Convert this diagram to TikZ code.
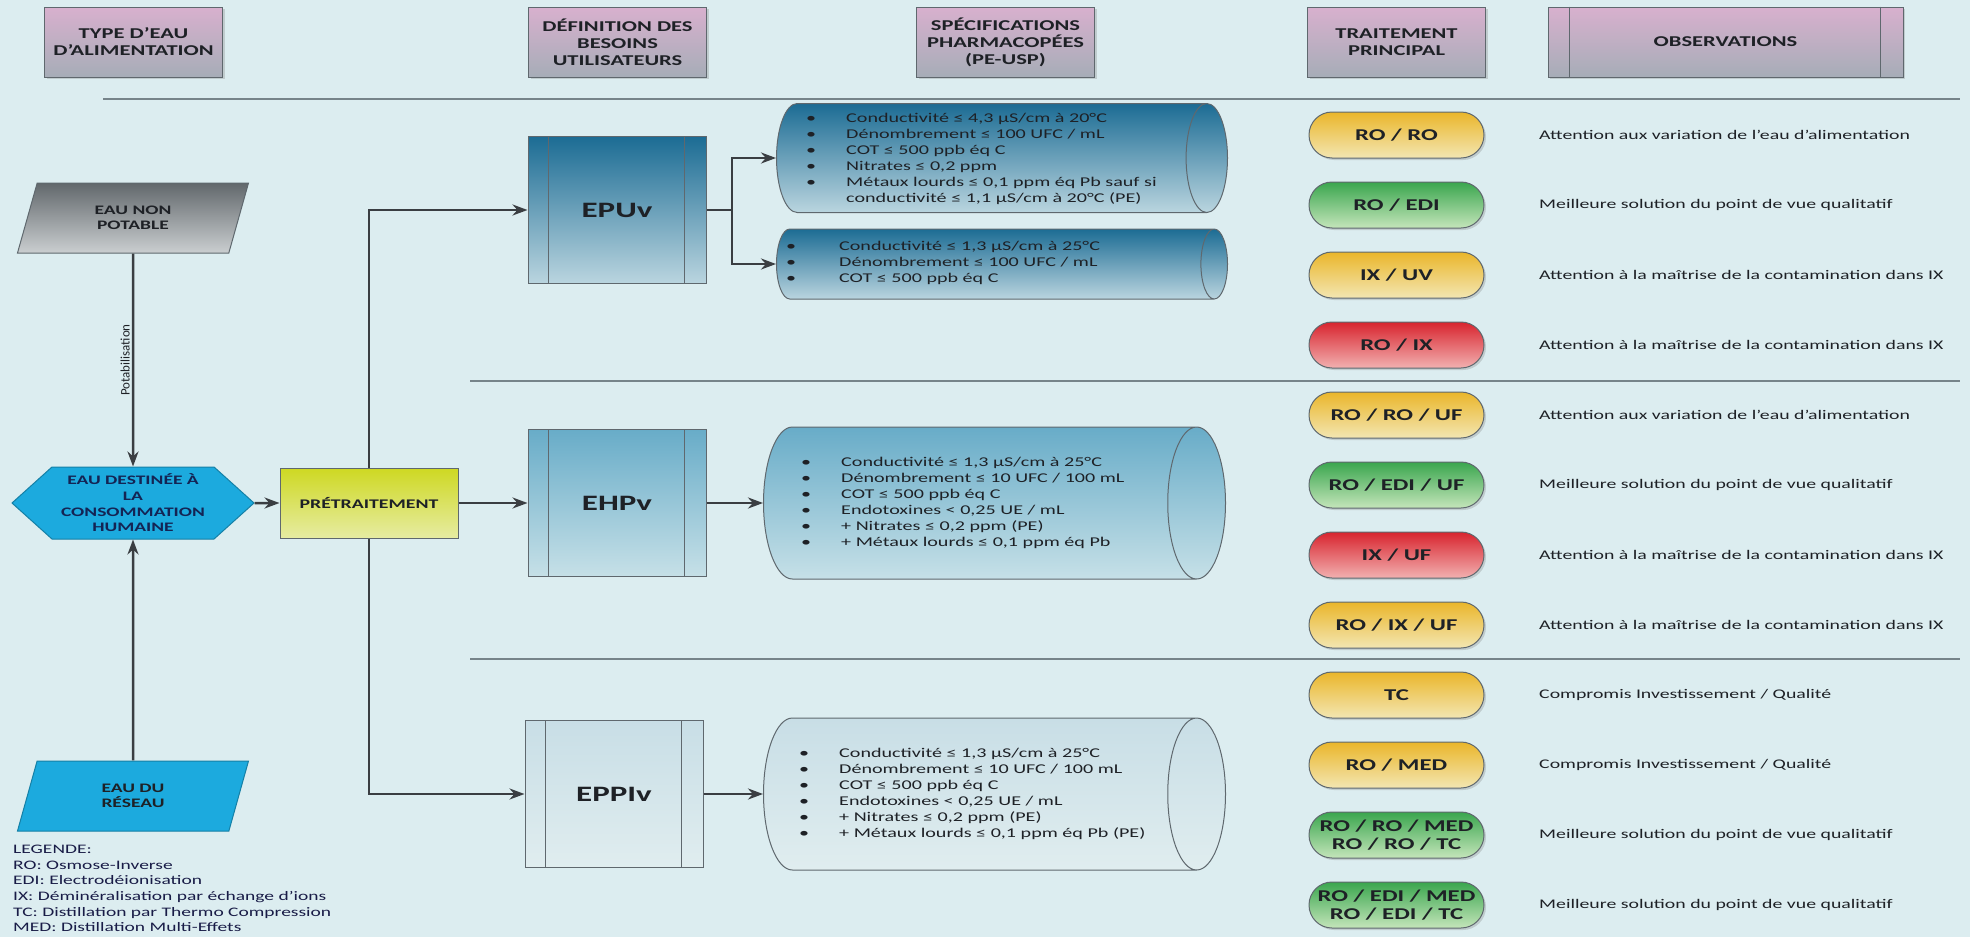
\documentclass[tikz,border=0pt]{standalone}
\usepackage{fontspec}
\setmainfont{Carlito}[FakeStretch=1.5]
\newfontfamily\plainfont{Carlito}
\usetikzlibrary{shapes.geometric,shapes.misc,shapes.symbols,arrows.meta,shadows}

\definecolor{bgcol}{RGB}{220,237,240}
\definecolor{edge}{RGB}{95,104,110}
\definecolor{flowcol}{RGB}{58,62,66}
\definecolor{sepcol}{RGB}{118,132,138}
\definecolor{txt}{RGB}{30,33,38}
\definecolor{headtop}{RGB}{216,176,206}
\definecolor{headbot}{RGB}{166,173,183}
\definecolor{greytop}{RGB}{98,104,108}
\definecolor{greybot}{RGB}{202,206,208}
\definecolor{cyanb}{RGB}{28,170,222}
\definecolor{navy}{RGB}{20,36,84}
\definecolor{prettop}{RGB}{206,216,34}
\definecolor{pretbot}{RGB}{230,236,162}
\definecolor{darktop}{RGB}{28,108,148}
\definecolor{darkbot}{RGB}{186,213,223}
\definecolor{midtop}{RGB}{104,172,200}
\definecolor{midbot}{RGB}{198,224,231}
\definecolor{palebot}{RGB}{224,237,239}
\definecolor{paletop}{RGB}{200,222,230}
\definecolor{yeltop}{RGB}{234,182,42}
\definecolor{yelbot}{RGB}{243,230,178}
\definecolor{grntop}{RGB}{58,166,78}
\definecolor{grnbot}{RGB}{196,229,186}
\definecolor{redtop}{RGB}{216,36,46}
\definecolor{redbot}{RGB}{242,176,176}

\newcommand{\puce}[1][40pt]{\makebox[#1][l]{•}}

\begin{document}
\begin{tikzpicture}[x=1pt, y=-1pt, >={Stealth[length=15pt,width=11pt]},
    every node/.style={text=txt, inner sep=2pt},
    shade/.style={drop shadow={opacity=0.3, shadow xshift=2pt, shadow yshift=-2pt}},
    head/.style={draw=edge, line width=1pt, top color=headtop, bottom color=headbot, minimum width=178pt, minimum height=70pt, align=center, font=\bfseries\fontsize{15}{17}\selectfont, shade},
    source/.style={trapezium, trapezium left angle=54.5, trapezium right angle=125.5, trapezium stretches body, minimum width=231pt, minimum height=70pt, draw=edge, line width=1pt, align=center, font=\bfseries\fontsize{13}{15}\selectfont},
    procbox/.style={draw=edge, line width=1pt, minimum width=178pt, minimum height=147pt, font=\bfseries\fontsize{22}{26}\selectfont},
    tank/.style={cylinder, shape border rotate=0, aspect=0.38, anchor=west, draw=edge, line width=1pt, minimum height=451pt, minimum width=109pt},
    spec/.style={anchor=west, inner sep=0pt, align=left, font=\fontsize{13.4}{16}\selectfont},
    pill/.style={rounded rectangle, draw=edge, line width=1pt, minimum width=179pt, minimum height=46pt, align=center, font=\bfseries\fontsize{16.5}{18}\selectfont, shade},
    jaune/.style={pill, top color=yeltop, bottom color=yelbot},
    vert/.style={pill, top color=grntop, bottom color=grnbot},
    rouge/.style={pill, top color=redtop, bottom color=redbot},
    obs/.style={anchor=west, inner sep=0pt, font=\fontsize{13.2}{16}\selectfont},
    flow/.style={->, draw=flowcol, line width=2.5pt},
    sep/.style={draw=sepcol, line width=1.5pt},
    pota/.style={midway, rotate=90, above, font=\plainfont\fontsize{13}{15}\selectfont}]

    \useasboundingbox (0,0) rectangle (1970,937);
    \fill[bgcol] (0,0) rectangle (1970,937);

    % column titles
    \node[head] (tp) at (133.5,42) {TYPE D’EAU\\D’ALIMENTATION};
    \node[head] (df) at (617.5,42) {DÉFINITION DES\\BESOINS\\UTILISATEURS};
    \node[head] (sp) at (1005.5,42) {SPÉCIFICATIONS\\PHARMACOPÉES\\(PE-USP)};
    \node[head] (tr) at (1396.5,42) {TRAITEMENT\\PRINCIPAL};
    \node[head, minimum width=355pt] (ob) at (1725.5,42) {OBSERVATIONS};
    \draw[edge, line width=1pt] ([xshift=22pt]ob.north west) -- ([xshift=22pt]ob.south west)
        ([xshift=-23pt]ob.north east) -- ([xshift=-23pt]ob.south east);

    \draw[sep] (103,99) -- (1960,99);
    \draw[sep] (470,381) -- (1960,381);
    \draw[sep] (470,659) -- (1960,659);

    % feed water
    \node[source, top color=greytop, bottom color=greybot] (np) at (133,218) {EAU NON\\POTABLE};
    \node[signal, signal to=west and east, signal pointer angle=84, minimum width=242pt, minimum height=72pt, fill=cyanb, draw=cyanb!75!black, line width=1pt, align=center, text=navy, font=\bfseries\fontsize{13}{15.7}\selectfont] (ed) at (133,503) {EAU DESTINÉE À\\LA\\CONSOMMATION\\HUMAINE};
    \node[source, fill=cyanb, draw=cyanb!75!black] (rs) at (133,796) {EAU DU\\RÉSEAU};
    \node[draw=edge, line width=1pt, top color=prettop, bottom color=pretbot, minimum width=178pt, minimum height=70pt, font=\bfseries\fontsize{13.2}{16}\selectfont] (pt) at (369,503) {PRÉTRAITEMENT};

    \node[anchor=north west, inner sep=0pt, align=left, text=txt!85!blue, font=\fontsize{13}{15.6}\selectfont] (lg) at (13,845) {LEGENDE:\\RO: Osmose-Inverse\\EDI: Electrodéionisation\\IX: Déminéralisation par échange d’ions\\TC: Distillation par Thermo Compression\\MED: Distillation Multi-Effets};

    % user needs
    \node[procbox, top color=darktop, bottom color=darkbot] (b1) at (617,210) {EPUv};
    \node[procbox, top color=midtop, bottom color=midbot] (b2) at (617,503) {EHPv};
    \node[procbox, top color=paletop, bottom color=palebot] (b3) at (614,794) {EPPIv};
    \draw[edge, line width=1pt] ([xshift=21pt]b1.north west) -- ([xshift=21pt]b1.south west)
        ([xshift=-22pt]b1.north east) -- ([xshift=-22pt]b1.south east);
    \draw[edge, line width=1pt] ([xshift=21pt]b2.north west) -- ([xshift=21pt]b2.south west)
        ([xshift=-22pt]b2.north east) -- ([xshift=-22pt]b2.south east);
    \draw[edge, line width=1pt] ([xshift=21pt]b3.north west) -- ([xshift=21pt]b3.south west)
        ([xshift=-22pt]b3.north east) -- ([xshift=-22pt]b3.south east);

    % specifications
    \node[tank, top color=darktop, bottom color=darkbot] (c1) at (776,158) {\rule{0pt}{105pt}};
    \node[tank, top color=darktop, bottom color=darkbot, minimum width=70pt] (c2) at (776,264) {\rule{0pt}{66pt}};
    \node[tank, top color=midtop, bottom color=midbot, minimum height=462pt, minimum width=152pt] (c3) at (763,503) {\rule{0pt}{148pt}};
    \node[tank, top color=paletop, bottom color=palebot, minimum height=462pt, minimum width=152pt] (c4) at (763,794) {\rule{0pt}{148pt}};

    \node[spec] (s1) at (806,159) {\puce Conductivité ≤ 4,3 µS/cm à 20°C\\\puce Dénombrement ≤ 100 UFC / mL\\\puce COT ≤ 500 ppb éq C\\\puce Nitrates ≤ 0,2 ppm\\\puce Métaux lourds ≤ 0,1 ppm éq Pb sauf si\\\hspace*{40pt}conductivité ≤ 1,1 µS/cm à 20°C (PE)};
    \node[spec] (s2) at (786,263) {\puce[53pt]Conductivité ≤ 1,3 µS/cm à 25°C\\\puce[53pt]Dénombrement ≤ 100 UFC / mL\\\puce[53pt]COT ≤ 500 ppb éq C};
    \node[spec] (s3) at (801,503) {\puce Conductivité ≤ 1,3 µS/cm à 25°C\\\puce Dénombrement ≤ 10 UFC / 100 mL\\\puce COT ≤ 500 ppb éq C\\\puce Endotoxines < 0,25 UE / mL\\\puce + Nitrates ≤ 0,2 ppm (PE)\\\puce + Métaux lourds ≤ 0,1 ppm éq Pb};
    \node[spec] (s4) at (799,794) {\puce Conductivité ≤ 1,3 µS/cm à 25°C\\\puce Dénombrement ≤ 10 UFC / 100 mL\\\puce COT ≤ 500 ppb éq C\\\puce Endotoxines < 0,25 UE / mL\\\puce + Nitrates ≤ 0,2 ppm (PE)\\\puce + Métaux lourds ≤ 0,1 ppm éq Pb (PE)};

    % treatments
    \node[jaune] (r1) at (1396.5,135) {RO / RO};
    \node[vert] (r2) at (1396.5,205) {RO / EDI};
    \node[jaune] (r3) at (1396.5,275) {IX / UV};
    \node[rouge] (r4) at (1396.5,345) {RO / IX};
    \node[jaune] (r5) at (1396.5,415) {RO / RO / UF};
    \node[vert] (r6) at (1396.5,485) {RO / EDI / UF};
    \node[rouge] (r7) at (1396.5,555) {IX / UF};
    \node[jaune] (r8) at (1396.5,625) {RO / IX / UF};
    \node[jaune] (r9) at (1396.5,695) {TC};
    \node[jaune] (r10) at (1396.5,765) {RO / MED};
    \node[vert] (r11) at (1396.5,835) {RO / RO / MED\\RO / RO / TC};
    \node[vert] (r12) at (1396.5,905) {RO / EDI / MED\\RO / EDI / TC};

    % observations
    \node[obs] (o1) at (1539,135) {Attention aux variation de l’eau d’alimentation};
    \node[obs] (o2) at (1539,205) {Meilleure solution du point de vue qualitatif};
    \node[obs] (o3) at (1539,275) {Attention à la maîtrise de la contamination dans IX};
    \node[obs] (o4) at (1539,345) {Attention à la maîtrise de la contamination dans IX};
    \node[obs] (o5) at (1539,415) {Attention aux variation de l’eau d’alimentation};
    \node[obs] (o6) at (1539,485) {Meilleure solution du point de vue qualitatif};
    \node[obs] (o7) at (1539,555) {Attention à la maîtrise de la contamination dans IX};
    \node[obs] (o8) at (1539,625) {Attention à la maîtrise de la contamination dans IX};
    \node[obs] (o9) at (1539,695) {Compromis Investissement / Qualité};
    \node[obs] (o10) at (1539,765) {Compromis Investissement / Qualité};
    \node[obs] (o11) at (1539,835) {Meilleure solution du point de vue qualitatif};
    \node[obs] (o12) at (1539,905) {Meilleure solution du point de vue qualitatif};

    % connectors
    \draw[flow] (np) -- node[pota] {Potabilisation} (ed);
    \draw[flow] (rs) -- (ed);
    \draw[flow] (ed) -- (pt);
    \draw[flow] (pt.north) |- (b1.west);
    \draw[flow] (pt) -- (b2);
    \draw[flow] (pt.south) |- (b3.west);
    \coordinate (fk) at (732,210);
    \draw[draw=flowcol, line width=2.5pt] (b1.east) -- (fk);
    \draw[flow] (fk) |- (c1.west);
    \draw[flow] (fk) |- (c2.west);
    \draw[flow] (b2) -- (c3);
    \draw[flow] (b3) -- (c4);
\end{tikzpicture}
\end{document}
